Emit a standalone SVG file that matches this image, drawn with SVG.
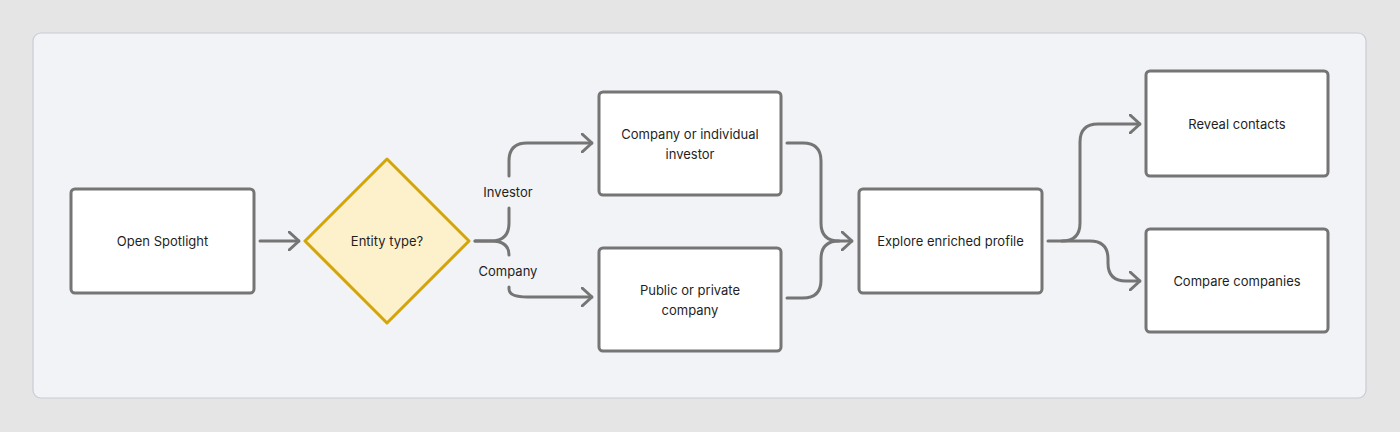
<svg xmlns="http://www.w3.org/2000/svg" width="1400" height="432" viewBox="0 0 1400 432">
<style>
.n{fill:#fff;stroke:#757575;stroke-width:3}
.c{fill:none;stroke:#757575;stroke-width:3;stroke-linecap:round;stroke-linejoin:round}
text{font-family:Inter,"Liberation Sans",sans-serif;font-size:13px;fill:#1f1f1f;text-anchor:middle;dominant-baseline:central}
</style>
<defs><marker id="a" viewBox="0 0 12 20" refX="11" refY="10" markerWidth="12" markerHeight="20" markerUnits="userSpaceOnUse" orient="auto"><path d="M1,1 L11,10 L1,19" fill="none" stroke="#757575" stroke-width="3" stroke-linecap="round" stroke-linejoin="round"/></marker></defs>
<rect width="1400" height="432" fill="#e5e5e5"/>
<rect x="33" y="33" width="1333" height="365" rx="8" fill="#f2f3f6" stroke="#c9ccd6" stroke-width="1.2"/>
<g id="connectors">
<path class="c" marker-end="url(#a)" d="M260,241 H299"/>
<path class="c" marker-end="url(#a)" d="M509,176 V161 Q509,143 527,143 H592"/>
<path class="c" d="M475,241 H491 Q509,241 509,223 V208"/>
<path class="c" d="M475,241 H491 Q509,241 509,255"/>
<path class="c" marker-end="url(#a)" d="M509,287 V289 Q509,297 527,297 H592"/>
<path class="c" marker-end="url(#a)" d="M787,143 H803 Q821,143 821,161 V223 Q821,241 839,241 H852"/>
<path class="c" d="M787,298 H803 Q821,298 821,280 V259 Q821,241 839,241"/>
<path class="c" marker-end="url(#a)" d="M1048,241 H1062 Q1080,241 1080,223 V142 Q1080,124 1098,124 H1140"/>
<path class="c" marker-end="url(#a)" d="M1062,241 H1090 Q1108,241 1108,259 V263 Q1108,281 1126,281 H1140"/>
</g>
<text x="508" y="192">Investor</text>
<text x="508" y="271">Company</text>
<g id="open"><rect class="n" x="71" y="189" width="183" height="104" rx="4"/><text x="162.5" y="241">Open Spotlight</text></g>
<g id="decision"><path d="M387,159 L469,241 L387,323 L305,241 Z" fill="#fdf1cc" stroke="#d4a50a" stroke-width="3" stroke-linejoin="round"/><text x="387" y="241">Entity type?</text></g>
<g id="investor"><rect class="n" x="599" y="92" width="182" height="103" rx="4"/><text x="690" y="134">Company or individual</text><text x="690" y="154">investor</text></g>
<g id="company"><rect class="n" x="599" y="248" width="182" height="103" rx="4"/><text x="690" y="290">Public or private</text><text x="690" y="310">company</text></g>
<g id="explore"><rect class="n" x="859" y="189" width="183" height="104" rx="4"/><text x="950.5" y="241">Explore enriched profile</text></g>
<g id="reveal"><rect class="n" x="1146" y="71" width="182" height="105" rx="4"/><text x="1237" y="124">Reveal contacts</text></g>
<g id="compare"><rect class="n" x="1146" y="229" width="182" height="103" rx="4"/><text x="1237" y="281">Compare companies</text></g>
</svg>
